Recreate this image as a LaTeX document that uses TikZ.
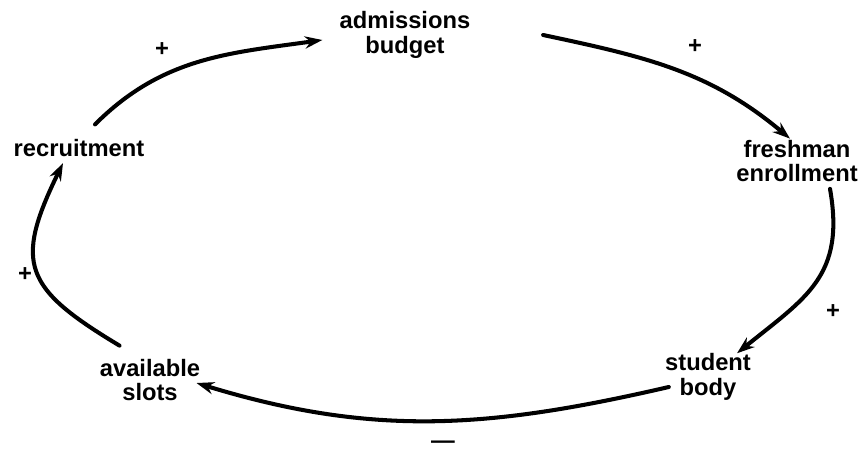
\documentclass[tikz,border=0pt]{standalone}
\usepackage{fontspec}
\setmainfont{Liberation Sans}
\usetikzlibrary{arrows.meta}
\begin{document}
\begin{tikzpicture}[line join=round, line cap=round,
	>={Stealth[length=10pt,width=7pt]},
	var/.style={align=center, inner sep=2pt, font=\fontsize{13.5}{14}\selectfont\bfseries},
	sign/.style={inner sep=0pt, font=\fontsize{13.5}{14}\selectfont\bfseries},
	link/.style={->, line width=2.3pt}]
	\useasboundingbox (0,0) rectangle (17.24,9.06);
	
	% variables of the loop
	\node[var] (adm) at (8.10,8.36) {admissions\\budget};
	\node[var] (fresh) at (15.94,5.84) {freshman\\enrollment};
	\node[var] (stud) at (14.16,1.52) {student\\body};
	\node[var] (avail) at (3.00,1.46) {available\\slots};
	\node[var] (recr) at (1.58,6.10) {recruitment};
	
	% links
	\draw[link] ([shift={(0.32,0.22)}]recr.north) to[out=45,in=188] ([shift={(-0.27,-0.1)}]adm.west);
	\draw[link] ([shift={(1.38,0)}]adm.east) to[out=-12,in=140] ([shift={(-0.14,-0.05)}]fresh.north);
	\draw[link] ([shift={(0.66,-0.06)}]fresh.south) to[out=-80,in=39,looseness=1.2] ([shift={(0.58,-0.07)}]stud.north);
	\draw[link] ([shift={(0.15,-0.2)}]stud.west) to[out=193,in=-17] ([shift={(-0.15,-0.06)}]avail.east);
	\draw[link] ([shift={(0.47,0.19)}]avail.north west) to[out=149,in=-116,looseness=1.5] ([shift={(-0.32,-0.05)}]recr.south);
	
	% polarities
	\node[sign] (p1) at (3.24,8.06) {+};
	\node[sign] (p2) at (13.90,8.12) {+};
	\node[sign] (p3) at (16.66,2.82) {+};
	\node[sign] (p4) at (0.50,3.56) {+};
	\node[sign] (m1) at (8.86,0.16) {---};
\end{tikzpicture}
\end{document}
